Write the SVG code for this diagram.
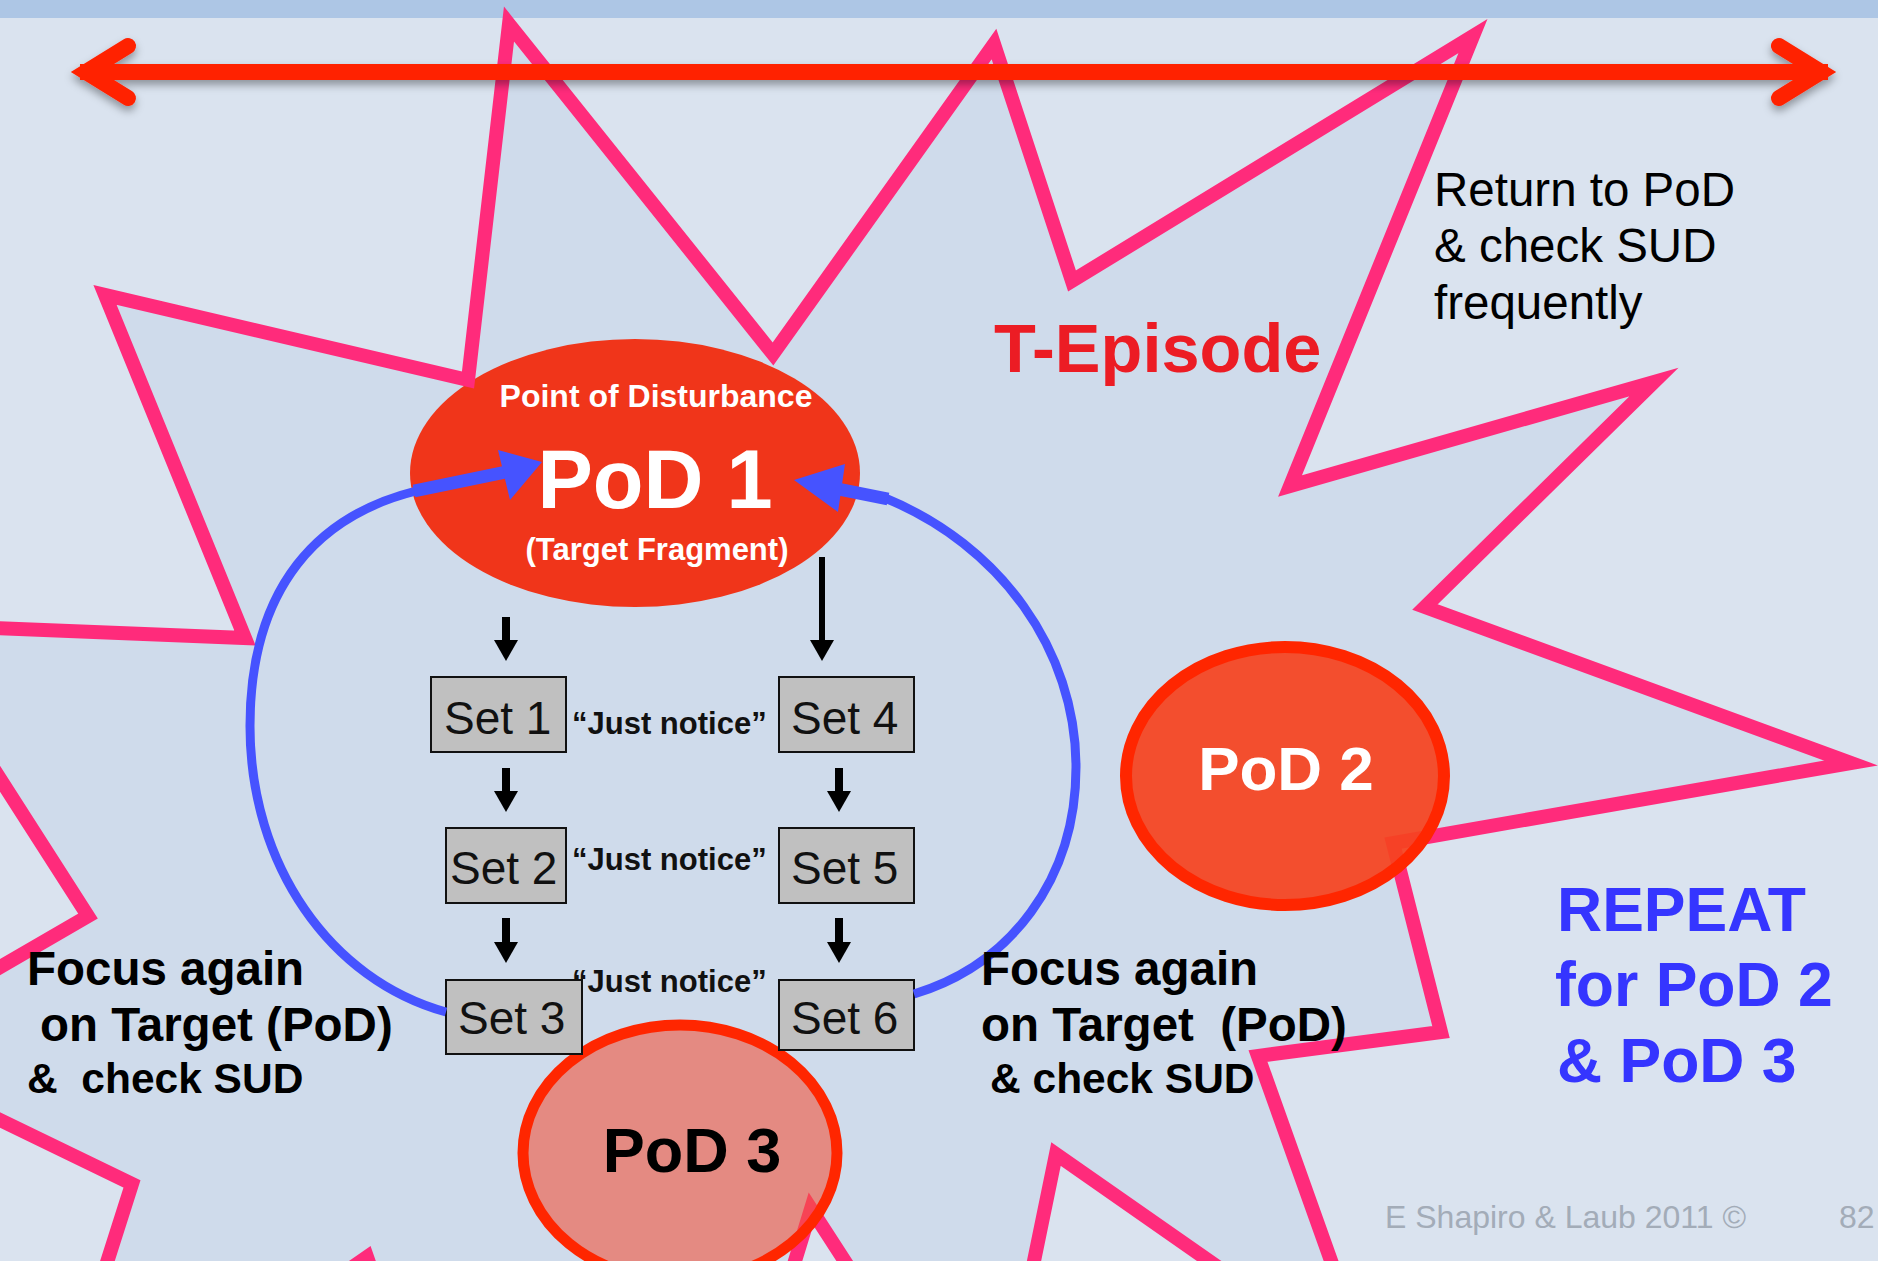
<svg xmlns="http://www.w3.org/2000/svg" xmlns:xlink="http://www.w3.org/1999/xlink" width="1878" height="1261" viewBox="0 0 1878 1261">
<defs>
<style>
.bold{font-family:"Liberation Sans",Arial,sans-serif;font-weight:bold}
.reg{font-family:"Liberation Sans",Arial,sans-serif}
.setbox{fill:#c0c0c0;stroke:#111;stroke-width:2}
.settxt{font-family:"Liberation Sans",Arial,sans-serif;font-size:46px;fill:#111}
.jn{font-family:"Liberation Sans",Arial,sans-serif;font-weight:bold;font-size:31px;fill:#111}
.focus{font-family:"Liberation Sans",Arial,sans-serif;font-weight:bold;font-size:47.5px;fill:#000}
.small{font-size:42.5px}
.blue{fill:none;stroke:#4653ff;stroke-width:9}
.bluehead{fill:#4653ff}
.blk{fill:#000}
</style>
<path id="starPath" d="M509,24 L773,354 L994,44 L1072,281 L1473,36 L1290,486 L1654,382 L1425,607 L1851,763 L1393,843 L1441,1032 L1258,1056 L1345,1300 L1265,1300 L1056,1154 L1026,1300 L870,1300 L811,1209 L783,1300 L382,1300 L367,1257 L305,1300 L95,1300 L132,1184 L-60,1091 L-60,1002 L88,916 L-30,732 L-60,626 L245,638 L105,295 L468,380 Z"/>
<filter id="shadow" x="-5%" y="-50%" width="110%" height="200%">
<feDropShadow dx="0" dy="5" stdDeviation="4" flood-color="#000" flood-opacity="0.35"/>
</filter>
</defs>

<g id="background">
<rect x="0" y="0" width="1878" height="1261" fill="#dae3ef"/>
<rect x="0" y="0" width="1878" height="18" fill="#adc6e5"/>
</g>

<g id="star-fill">
<use xlink:href="#starPath" fill="#cfdbeb" stroke="none"/>
</g>

<g id="pod1">
<ellipse cx="635" cy="473" rx="225" ry="134" fill="#f0351a"/>
</g>

<g id="star-outline">
<use xlink:href="#starPath" fill="none" stroke="#ff2b7b" stroke-width="14" stroke-linejoin="miter" stroke-miterlimit="20"/>
</g>

<g id="pod3">
<ellipse cx="680" cy="1153" rx="157" ry="128" fill="rgb(242,84,60)" fill-opacity="0.6" stroke="#ff2600" stroke-width="11"/>
<text class="bold" x="692" y="1172" font-size="63" fill="#000" text-anchor="middle">PoD 3</text>
</g>

<g id="pod2">
<ellipse cx="1285" cy="776" rx="159" ry="129" fill="#f5431f" fill-opacity="0.93" stroke="#ff2600" stroke-width="12"/>
<text class="bold" x="1286" y="790" font-size="62" fill="#fff" text-anchor="middle">PoD 2</text>
</g>

<g id="pod1-label">
<text class="bold" x="656" y="407" font-size="32" fill="#fff" text-anchor="middle">Point of Disturbance</text>
<text class="bold" x="655" y="508" font-size="83" fill="#fff" text-anchor="middle">PoD 1</text>
<text class="bold" x="657" y="560" font-size="31" fill="#fff" text-anchor="middle">(Target Fragment)</text>
</g>

<g id="timeline">
<g filter="url(#shadow)" stroke="#ff2200" stroke-width="16" fill="none" stroke-linecap="round" stroke-linejoin="miter" stroke-miterlimit="10">
<line x1="80" y1="72" x2="1828" y2="72" stroke-linecap="butt"/>
<path d="M128,46 L86,72 L128,98"/>
<path d="M1779,46 L1821,72 L1779,98"/>
</g>
</g>

<g id="t-episode">
<text class="bold" x="994" y="372" font-size="68.5" fill="#ec1c24">T-Episode</text>
</g>

<g id="return-note">
<text class="reg" font-size="47.5" fill="#000"><tspan x="1434" y="206">Return to PoD</tspan><tspan x="1434" y="262">&amp; check SUD</tspan><tspan x="1434" y="319">frequently</tspan></text>
</g>

<g id="just-notice">
<text class="jn" x="572" y="734">“Just notice”</text>
<text class="jn" x="572" y="870">“Just notice”</text>
<text class="jn" x="572" y="992">“Just notice”</text>
</g>

<g id="set1"><rect class="setbox" x="431" y="677" width="135" height="75"/><text class="settxt" x="444" y="734">Set 1</text></g>
<g id="set2"><rect class="setbox" x="446" y="828" width="120" height="75"/><text class="settxt" x="450" y="884">Set 2</text></g>
<g id="set3"><rect class="setbox" x="446" y="980" width="136" height="74"/><text class="settxt" x="458" y="1034">Set 3</text></g>
<g id="set4"><rect class="setbox" x="779" y="677" width="135" height="75"/><text class="settxt" x="791" y="734">Set 4</text></g>
<g id="set5"><rect class="setbox" x="779" y="828" width="135" height="75"/><text class="settxt" x="791" y="884">Set 5</text></g>
<g id="set6"><rect class="setbox" x="779" y="980" width="135" height="70"/><text class="settxt" x="791" y="1034">Set 6</text></g>

<g id="connectors">
<rect class="blk" x="502" y="617" width="8" height="24"/><polygon class="blk" points="494,640 518,640 506,661"/>
<rect class="blk" x="502" y="768" width="8" height="24"/><polygon class="blk" points="494,791 518,791 506,812"/>
<rect class="blk" x="502" y="918" width="8" height="25"/><polygon class="blk" points="494,942 518,942 506,963"/>
<rect class="blk" x="819" y="557" width="6" height="84"/><polygon class="blk" points="810,640 834,640 822,661"/>
<rect class="blk" x="835" y="768" width="8" height="24"/><polygon class="blk" points="827,791 851,791 839,812"/>
<rect class="blk" x="835" y="918" width="8" height="25"/><polygon class="blk" points="827,942 851,942 839,963"/>
<path class="blue" d="M446,1012 C330,980 250,865 250,726 C250,585 320,515 416,491"/>
<path d="M414,491 L506,472" fill="none" stroke="#4653ff" stroke-width="13"/>
<polygon class="bluehead" points="542,462 498,450 510,500"/>
<path class="blue" d="M914,994 C1010,965 1076,880 1076,767 C1076,650 1000,545 885,498"/>
<path d="M888,499 L838,489" fill="none" stroke="#4653ff" stroke-width="13"/>
<polygon class="bluehead" points="794,480 845,464 838,512"/>
</g>

<g id="focus-left">
<text class="focus" xml:space="preserve"><tspan x="27" y="985">Focus again</tspan><tspan x="40" y="1041">on Target (PoD)</tspan><tspan class="small" x="27" y="1093">&amp;  check SUD</tspan></text>
</g>

<g id="focus-right">
<text class="focus" xml:space="preserve"><tspan x="981" y="985">Focus again</tspan><tspan x="981" y="1041">on Target  (PoD)</tspan><tspan class="small" x="990" y="1093">&amp; check SUD</tspan></text>
</g>

<g id="repeat-note">
<text class="bold" font-size="62.5" fill="#3535ff"><tspan x="1557" y="931">REPEAT</tspan><tspan x="1555" y="1006">for PoD 2</tspan><tspan x="1557" y="1082">&amp; PoD 3</tspan></text>
</g>

<g id="footer">
<text class="reg" x="1385" y="1228" font-size="32" fill="#a3acb8">E Shapiro &amp; Laub 2011 ©</text>
<text class="reg" x="1839" y="1228" font-size="32" fill="#a3acb8">82</text>
</g>
</svg>
